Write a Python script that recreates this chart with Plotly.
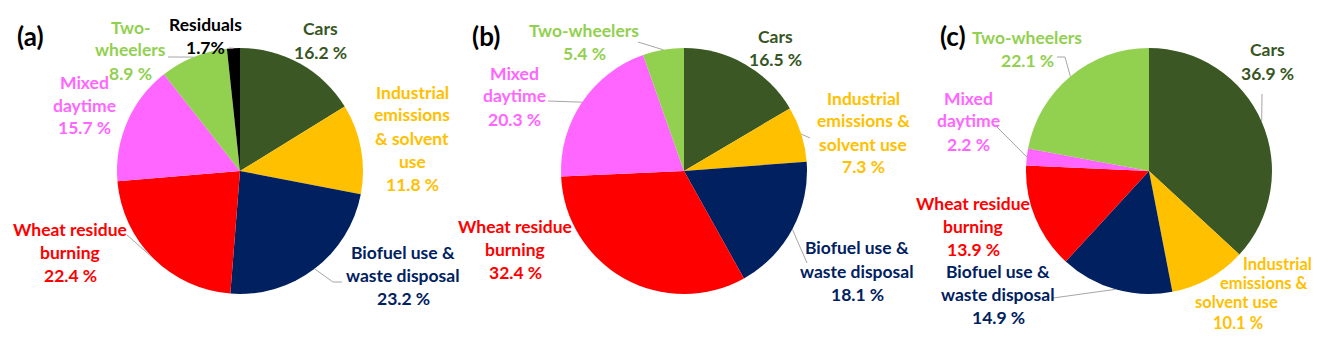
import math

import plotly.graph_objects as go

W, H = 1328, 350

categories = [
    "Cars",
    "Industrial emissions & solvent use",
    "Biofuel use & waste disposal",
    "Wheat residue burning",
    "Mixed daytime",
    "Two-wheelers",
    "Residuals",
]
values_a = [16.2, 11.8, 23.2, 22.4, 15.7, 8.9, 1.7]
values_b = [16.5, 7.3, 18.1, 32.4, 20.3, 5.4, 0.0]
values_c = [36.9, 10.1, 14.9, 13.9, 2.2, 22.1, 0.0]
panel_tags = ["(a)", "(b)", "(c)"]

slice_colors = ["#3A5724", "#FFC000", "#002060", "#FF0000", "#FF66FF", "#92D050", "#000000"]
text_colors = ["#375623", "#FFC000", "#002060", "#FF0000", "#FF66FF", "#92D050", "#000000"]

# pie centres / radius in pixels
centres = [(240, 171), (684, 171), (1149, 171)]
R = 123

# label layout per panel: category index -> (lines, x centre, first y, line gap, leader start pts)
label_layout = [
    {
        0: (["Cars", "{v} %"], 320, 29, 23, None),
        1: (["Industrial", "emissions", "& solvent", "use", "{v} %"], 412, 92, 23, None),
        2: (["Biofuel use &", "waste disposal", "{v} %"], 403, 252, 23, [(342, 282), (333, 282)]),
        3: (["Wheat residue", "burning", "{v} %"], 70, 229, 23, [(127, 235)]),
        4: (["Mixed", "daytime", "{v} %"], 84, 82, 23, None),
        5: (["Two-", "wheelers", "{v} %"], 130, 27, 23, [(168, 57)]),
        6: (["Residuals", "{v}%"], 205, 25, 23, [(229, 48)]),
    },
    {
        0: (["Cars", "{v} %"], 775, 36, 23, None),
        1: (["Industrial", "emissions &", "solvent use", "{v} %"], 863, 98, 23, [(810, 138)]),
        2: (["Biofuel use &", "waste disposal", "{v} %"], 857, 248, 23, [(807, 263)]),
        3: (["Wheat residue", "burning", "{v} %"], 515, 226, 23, None),
        4: (["Mixed", "daytime", "{v} %"], 514, 73, 23, [(548, 101)]),
        5: (["Two-wheelers", "{v} %"], 584, 31, 22, [(638, 42)]),
    },
    {
        0: (["Cars", "{v} %"], 1267, 50, 23, [(1262, 94)]),
        2: (["Biofuel use &", "waste disposal", "{v} %"], 998, 271, 23, [(1053, 298)]),
        3: (["Wheat residue", "burning", "{v} %"], 973, 203, 23, None),
        4: (["Mixed", "daytime", "{v} %"], 968, 98, 23, [(997, 127)]),
        5: (["Two-wheelers", "{v} %"], 1027, 37, 23, [(1057, 57), (1065, 57)]),
    },
]
# industrial label of panel (c) is staggered line by line
industrial_c = [("Industrial", 1277, 264), ("emissions &", 1264, 283),
                ("solvent use", 1236, 302), ("{v} %", 1238, 323)]

tag_pos = [(30, 36), (486, 36), (953, 36)]


def px(x):
    return x / W


def py(y):
    return 1 - y / H


fig = go.Figure()
annotations = []
shapes = []
font = dict(family="Lato, 'Open Sans', sans-serif", size=17.5, weight="bold")

for p, vals in enumerate([values_a, values_b, values_c]):
    cx, cy = centres[p]
    labs = [c for c, v in zip(categories, vals) if v > 0]
    vs = [v for v in vals if v > 0]
    cols = [slice_colors[i] for i, v in enumerate(vals) if v > 0]
    fig.add_trace(
        go.Pie(
            labels=labs,
            values=vs,
            sort=False,
            direction="clockwise",
            rotation=0,
            textinfo="none",
            hoverinfo="label+percent",
            marker=dict(colors=cols, line=dict(width=0)),
            domain=dict(x=[px(cx - R), px(cx + R)], y=[py(cy + R), py(cy - R)]),
            showlegend=False,
        )
    )

    total = sum(vals)
    cum = 0.0
    mids = {}
    for i, v in enumerate(vals):
        mids[i] = (cum + v / 2) / total * 2 * math.pi
        cum += v

    for i, (lines, x0, y0, gap, leader) in label_layout[p].items():
        for k, ln in enumerate(lines):
            annotations.append(dict(
                x=px(x0), y=py(y0 + k * gap), xref="paper", yref="paper",
                text=ln.format(v=vals[i]), showarrow=False,
                xanchor="center", yanchor="middle",
                font=dict(font, color=text_colors[i]),
            ))
        if leader:
            a = mids[i]
            edge = (cx + R * math.sin(a), cy - R * math.cos(a))
            pts = leader + [edge]
            for (x1, y1), (x2, y2) in zip(pts[:-1], pts[1:]):
                shapes.append(dict(
                    type="line", xref="paper", yref="paper",
                    x0=px(x1), y0=py(y1), x1=px(x2), y1=py(y2),
                    line=dict(color="#A6A6A6", width=1),
                ))

    annotations.append(dict(
        x=px(tag_pos[p][0]), y=py(tag_pos[p][1]), xref="paper", yref="paper",
        text=panel_tags[p], showarrow=False, xanchor="center", yanchor="middle",
        font=dict(family="Lato, 'Open Sans', sans-serif", size=26, weight="bold", color="#000000"),
    ))

# smaller, tighter text for the staggered label in (c)
for ln, x0, y0 in industrial_c:
    annotations.append(dict(
        x=px(x0), y=py(y0), xref="paper", yref="paper",
        text=ln.format(v=values_c[1]), showarrow=False,
        xanchor="center", yanchor="middle",
        font=dict(font, size=16.5, color=text_colors[1]),
    ))

fig.update_layout(
    width=W,
    height=H,
    margin=dict(l=0, r=0, t=0, b=0),
    paper_bgcolor="white",
    plot_bgcolor="white",
    annotations=annotations,
    shapes=shapes,
)

fig.write_html(
    "out.html",
    config={"displayModeBar": False},
    post_script="document.body.style.margin='0';",
)
